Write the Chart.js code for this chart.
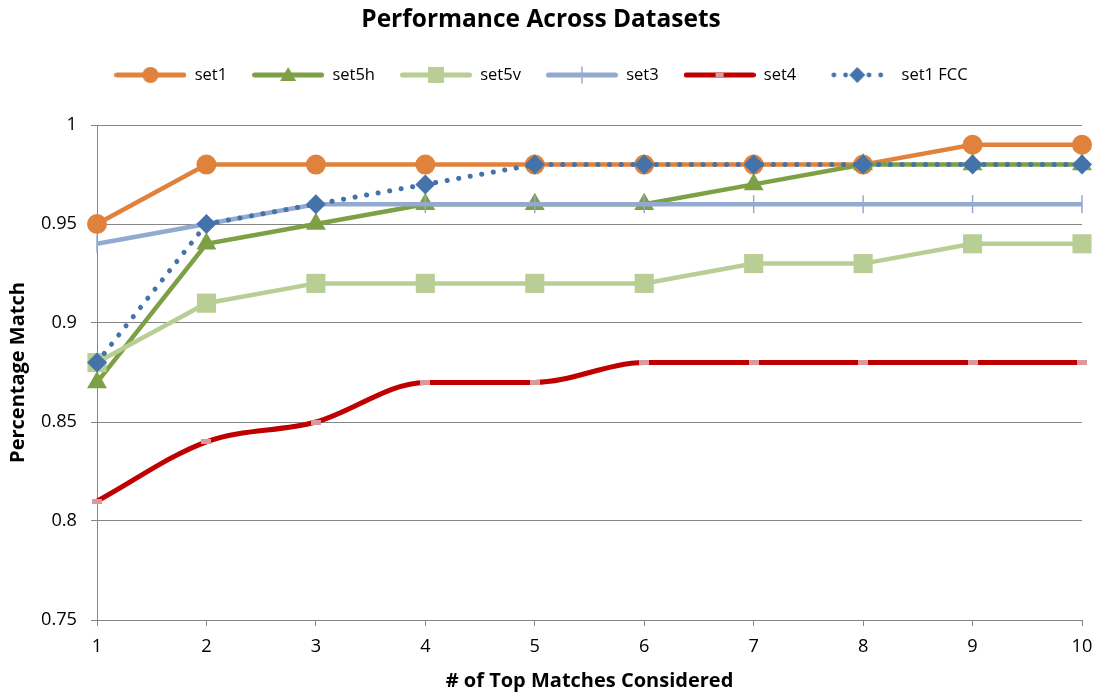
<!DOCTYPE html>
<html>
<head>
<meta charset="utf-8">
<script src="https://cdn.jsdelivr.net/npm/chart.js@4.4.0/dist/chart.umd.min.js"></script>
<style>
  html, body { margin: 0; padding: 0; background: #fff; }
  #c { display: block; }
</style>
</head>
<body>
<canvas id="c" width="1096" height="693"></canvas>
<script>
// ---- data ----
const categories = ['1', '2', '3', '4', '5', '6', '7', '8', '9', '10'];
const seriesNames = ['set1', 'set5h', 'set5v', 'set3', 'set4', 'set1 FCC'];
const set1    = [0.95, 0.98, 0.98, 0.98, 0.98, 0.98, 0.98, 0.98, 0.99, 0.99];
const set5h   = [0.87, 0.94, 0.95, 0.96, 0.96, 0.96, 0.97, 0.98, 0.98, 0.98];
const set5v   = [0.88, 0.91, 0.92, 0.92, 0.92, 0.92, 0.93, 0.93, 0.94, 0.94];
const set3    = [0.94, 0.95, 0.96, 0.96, 0.96, 0.96, 0.96, 0.96, 0.96, 0.96];
const set4    = [0.81, 0.84, 0.85, 0.87, 0.87, 0.88, 0.88, 0.88, 0.88, 0.88];
const set1FCC = [0.88, 0.95, 0.96, 0.97, 0.98, 0.98, 0.98, 0.98, 0.98, 0.98];
const yMin = 0.75, yMax = 1, yStep = 0.05;
const titleText = 'Performance Across Datasets';
const xTitle = '# of Top Matches Considered';
const yTitle = 'Percentage Match';

// ---- styles ----
const FAMILY = '"Open Sans", "Noto Sans", sans-serif';
const C_ORANGE = '#E0823C';
const C_GREEN = '#7EA045';
const C_LGREEN = '#B8CE94';
const C_BLUEGRAY = '#93AAD0';
const C_RED = '#C00000';
const C_PINK = '#DA9A9C';
const C_BLUE = '#4472AA';

// font sizes fitted to the reference text widths
const mctx = document.createElement('canvas').getContext('2d');
function fitSize(text, weight, target) {
  mctx.font = weight + ' 100px ' + FAMILY;
  return Math.round(100 * target / mctx.measureText(text).width * 10) / 10;
}
const titleSize = fitSize(titleText, 'bold', 360);
const axisTitleSize = fitSize(xTitle, 'bold', 288);
const tickSize = fitSize('0.75', 'normal', 36);
const legendSize = fitSize('set1 FCC', 'normal', 66);

// layout helpers
const LEG_PAD = 25;
const titleLH = titleSize * 1.2;
const titlePadTop = Math.max(0, 20 - titleLH / 2);
const titlePadBottom = Math.max(0, 75 - LEG_PAD - legendSize / 2 - titlePadTop - titleLH);
const titleBlock = titlePadTop + titleLH + titlePadBottom;
const LEGEND_H = 125 - titleBlock;
const axisLH = axisTitleSize * 1.2;

// small pink dash marker for set4
function makeDash() {
  const c = document.createElement('canvas');
  c.width = 10; c.height = 5;
  const g = c.getContext('2d');
  g.fillStyle = C_PINK;
  g.fillRect(0, 0, 10, 5);
  return c;
}
const dashImg = makeDash();

function drawMarker(g, style, x, y, color) {
  g.fillStyle = color; g.strokeStyle = color;
  g.beginPath();
  if (style === 'circle') { g.arc(x, y, 8, 0, Math.PI * 2); g.fill(); }
  else if (style === 'triangle') { g.moveTo(x, y - 8); g.lineTo(x + 8, y + 6); g.lineTo(x - 8, y + 6); g.closePath(); g.fill(); }
  else if (style === 'rect') { g.fillRect(x - 8, y - 8, 16, 16); }
  else if (style === 'vline') { g.lineWidth = 1.5; g.moveTo(x, y - 8); g.lineTo(x, y + 8); g.stroke(); }
  else if (style === 'dash') { g.fillStyle = C_PINK; g.fillRect(x - 4, y - 2, 8, 4); }
  else if (style === 'diamond') { g.moveTo(x, y - 8); g.lineTo(x + 8, y); g.lineTo(x, y + 8); g.lineTo(x - 8, y); g.closePath(); g.fill(); }
}
function makeIcon(color, marker, dotted) {
  const c = document.createElement('canvas');
  c.width = 72; c.height = 22;
  const g = c.getContext('2d');
  g.strokeStyle = color; g.fillStyle = color; g.lineWidth = 5;
  if (dotted) {
    [-2, -1, 1, 2].forEach(k => {
      g.beginPath(); g.arc(36 + k * 11.7, 11, 2.4, 0, Math.PI * 2); g.fill();
    });
  } else {
    g.lineCap = 'round';
    g.beginPath(); g.moveTo(2.5, 11); g.lineTo(69.5, 11); g.stroke();
  }
  drawMarker(g, marker, 36, 11, color);
  return c;
}
const legendIcons = [
  makeIcon(C_ORANGE, 'circle'),
  makeIcon(C_GREEN, 'triangle'),
  makeIcon(C_LGREEN, 'rect'),
  makeIcon(C_BLUEGRAY, 'vline'),
  makeIcon(C_RED, 'dash'),
  makeIcon(C_BLUE, 'diamond', true)
];

const legendFix = {
  id: 'legendFix',
  beforeInit(chart) {
    const orig = chart.legend.fit;
    chart.legend.fit = function () { orig.call(this); this.height = LEGEND_H; };
  }
};

const common = { fill: false, clip: false, tension: 0, borderWidth: 4.5, pointBorderWidth: 0 };

new Chart(document.getElementById('c'), {
  type: 'line',
  data: {
    labels: categories,
    datasets: [
      Object.assign({}, common, { label: seriesNames[0], data: set1, borderColor: C_ORANGE, backgroundColor: C_ORANGE, pointStyle: 'circle', pointRadius: 10, order: 6 }),
      Object.assign({}, common, { label: seriesNames[1], data: set5h, borderColor: C_GREEN, backgroundColor: C_GREEN, pointStyle: 'triangle', pointRadius: 11.5, order: 5 }),
      Object.assign({}, common, { label: seriesNames[2], data: set5v, borderColor: C_LGREEN, backgroundColor: C_LGREEN, pointStyle: 'rect', pointRadius: 13.5, order: 4 }),
      Object.assign({}, common, { label: seriesNames[3], data: set3, borderColor: C_BLUEGRAY, backgroundColor: C_BLUEGRAY, pointStyle: 'line', pointRotation: 90, pointRadius: 9, pointBorderWidth: 1.5, pointBorderColor: C_BLUEGRAY, order: 3 }),
      Object.assign({}, common, { label: seriesNames[4], data: set4, borderColor: C_RED, backgroundColor: C_PINK, pointStyle: dashImg, pointRadius: 5, cubicInterpolationMode: 'monotone', borderWidth: 5, order: 2 }),
      Object.assign({}, common, { label: seriesNames[5], data: set1FCC, borderColor: C_BLUE, backgroundColor: C_BLUE, pointStyle: 'rectRot', pointRadius: 10, borderDash: [0.1, 11.6], borderCapStyle: 'round', borderWidth: 5, order: 1 })
    ]
  },
  plugins: [legendFix],
  options: {
    responsive: false,
    animation: false,
    events: [],
    layout: { padding: { left: 0, right: 14, top: 0, bottom: 0 } },
    plugins: {
      title: {
        display: true, text: titleText, color: '#000',
        font: { family: FAMILY, size: titleSize, weight: 'bold', lineHeight: 1.2 },
        padding: { top: titlePadTop, bottom: titlePadBottom }
      },
      legend: {
        display: true, position: 'top',
        labels: {
          usePointStyle: true, pointStyleWidth: 72, boxHeight: legendSize,
          padding: LEG_PAD, color: '#000',
          font: { family: FAMILY, size: legendSize },
          generateLabels: (chart) => chart.data.datasets.map((ds, i) => ({
            text: ds.label, pointStyle: legendIcons[i], datasetIndex: i,
            fontColor: '#000', hidden: false, lineWidth: 0,
            strokeStyle: 'rgba(0,0,0,0)', fillStyle: 'rgba(0,0,0,0)'
          }))
        }
      },
      tooltip: { enabled: false }
    },
    scales: {
      x: {
        type: 'category', offset: false,
        grid: { drawOnChartArea: false, drawTicks: true, tickLength: 6, color: '#868686', lineWidth: 1 },
        border: { display: true, color: '#868686', width: 1 },
        ticks: { color: '#000', font: { family: FAMILY, size: tickSize, lineHeight: 1.2 }, padding: Math.max(0, 647 - 626 - tickSize * 0.6), maxRotation: 0, autoSkip: false },
        title: { display: true, text: xTitle, color: '#000', font: { family: FAMILY, size: axisTitleSize, weight: 'bold', lineHeight: 1.2 }, padding: { top: 0, bottom: Math.max(0, 693 - 681 - axisLH / 2) } },
        afterFit(scale) { scale.height = 73; scale.paddingRight = 0; scale.paddingLeft = 0; }
      },
      y: {
        min: yMin, max: yMax,
        grid: { drawOnChartArea: true, drawTicks: true, tickLength: 6, color: '#868686', lineWidth: 1 },
        border: { display: true, color: '#868686', width: 1 },
        ticks: {
          stepSize: yStep, color: '#000', font: { family: FAMILY, size: tickSize }, padding: 14,
          callback: (v) => String(Number(v.toFixed(2)))
        },
        title: { display: true, text: yTitle, color: '#000', font: { family: FAMILY, size: axisTitleSize, weight: 'bold', lineHeight: 1.2 }, padding: { top: Math.max(0, 18 - axisLH / 2), bottom: 0 } },
        afterFit(scale) { scale.width = 97; }
      }
    }
  }
});
</script>
</body>
</html>
